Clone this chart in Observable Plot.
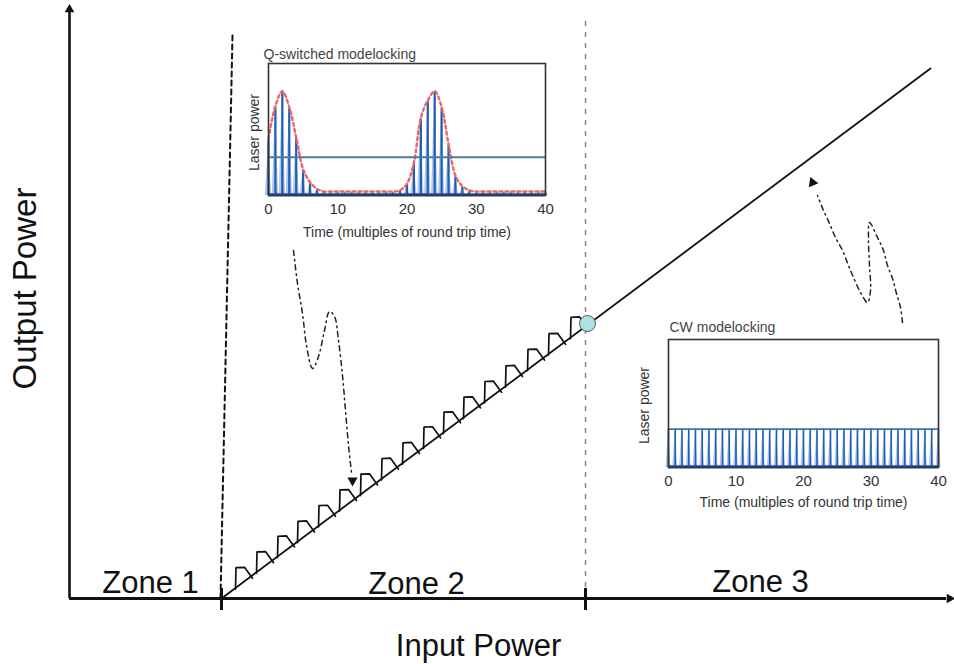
<!DOCTYPE html>
<html><head><meta charset="utf-8">
<script src="https://cdn.jsdelivr.net/npm/d3@7"></script>
<script src="https://cdn.jsdelivr.net/npm/@observablehq/plot@0.6"></script>
<style>
body{margin:0;background:#fff;}
#wrap{position:relative;width:954px;height:664px;overflow:hidden;font-family:"Liberation Sans",Arial,sans-serif;background:#fff;}
#wrap>div{position:absolute;}
</style></head><body>
<div id="wrap"><div id="main" style="left:0;top:0"></div><div id="q" style="left:230px;top:30px"></div><div id="cw" style="left:620px;top:300px"></div></div>
<script>
// ---------- Main diagram data (input power vs output power, schematic units) ----------
const threshold = 152;          // lasing threshold (start of zone 2)
const zoneBoundary = 516;       // boundary zone 2 / zone 3
const lasingLine = [{x: 152, y: 0}, {x: 861, y: 530}];
const xAxisEnd = 877, yAxisEnd = 586;
const zoneTicks = [152, 516];
const zoneLabels = [
  {label: "Zone 1", x: 81, y: 6},
  {label: "Zone 2", x: 347, y: 5},
  {label: "Zone 3", x: 691, y: 7}
];
const toothStarts = [166,187,208,228,249,270,291,312,333,354,374,394,415,436,458,479,501];
const toothShape = [{dx: 0, up: -1}, {dx: 0.5, up: 20}, {dx: 9, up: 14}, {dx: 17, up: -3}];
const qArrowPath = [[224,348],[228,315],[233,285],[237,253],[243,230],[249,242],[255,268],[260,287],[265,282],[269,258],[273,223],[276,188],[279,153],[282,126]];
const qArrowHead = {x: 283, y: 118, rotate: 180};
const cwArrowPath = [[833,276],[831,291],[827,305],[823,320],[818,333],[814,348],[808,361],[800,376],[799,358],[800,333],[801,308],[798,296],[791,306],[784,321],[779,333],[773,348],[766,361],[760,375],[754,388],[748,403]];
const cwArrowHead = {x: 743, y: 416, rotate: -22};
const transitionPoint = {x: 518, y: 275};

// ---------- Inset data ----------
const times = [0,1,2,3,4,5,6,7,8,9,10,11,12,13,14,15,16,17,18,19,20,21,22,23,24,25,26,27,28,29,30,31,32,33,34,35,36,37,38,39,40];
const qPulse = [0.42,0.67,0.78,0.66,0.43,0.19,0.09,0.04,0.02,0.02,0.02,0.02,0.02,0.02,0.02,0.02,0.02,0.02,0.02,0.03,0.08,0.24,0.58,0.71,0.78,0.66,0.38,0.14,0.06,0.03,0.02,0.02,0.02,0.02,0.02,0.02,0.02,0.02,0.02,0.02,0.02];
const qMean = 0.29;
const cwPulse = [0.3,0.3,0.3,0.3,0.3,0.3,0.3,0.3,0.3,0.3,0.3,0.3,0.3,0.3,0.3,0.3,0.3,0.3,0.3,0.3,0.3,0.3,0.3,0.3,0.3,0.3,0.3,0.3,0.3,0.3,0.3,0.3,0.3,0.3,0.3,0.3,0.3,0.3,0.3,0.3,0.3];
const timeTicks = [0, 10, 20, 30, 40];

// ---------- Build main ----------
const slope = (lasingLine[1].y - lasingLine[0].y) / (lasingLine[1].x - lasingLine[0].x);
const teeth = toothStarts.flatMap(s => toothShape.map(p => ({x: s + p.dx, y: slope * (s + p.dx - threshold) + p.up, z: s})));
const pts = a => a.map(([x, y]) => ({x, y}));
const ink = "#111";

const main = Plot.plot({
  width: 954, height: 664,
  marginLeft: 0, marginRight: 0, marginTop: 0, marginBottom: 0,
  x: {domain: [-69, 885], axis: null},
  y: {domain: [-66, 598], axis: null},
  style: {fontFamily: '"Liberation Sans", Arial, sans-serif', background: "transparent"},
  marks: [
    // zone separators
    Plot.line([{x: 163, y: 563}, {x: threshold - 1, y: 0}], {x: "x", y: "y", stroke: ink, strokeWidth: 2, strokeDasharray: "5,4"}),
    Plot.ruleX([zoneBoundary], {y1: 0, y2: 579, stroke: "#888", strokeWidth: 1.5, strokeDasharray: "5,6"}),
    // axes
    Plot.ruleY([0], {x1: 0, x2: xAxisEnd, stroke: ink, strokeWidth: 3}),
    Plot.ruleX([0], {y1: 0, y2: yAxisEnd, stroke: ink, strokeWidth: 2.6}),
    Plot.ruleX(zoneTicks, {y1: -12, y2: 10, stroke: ink, strokeWidth: 3}),
    Plot.dot([{x: 0, y: 589}], {x: "x", y: "y", symbol: "triangle", r: 3.6, fill: ink, stroke: null}),
    Plot.dot([{x: 880, y: 0}], {x: "x", y: "y", symbol: "triangle", r: 3.6, fill: ink, stroke: null, rotate: 90}),
    // output characteristic
    Plot.line(lasingLine, {x: "x", y: "y", stroke: ink, strokeWidth: 1.8}),
    Plot.line(teeth, {x: "x", y: "y", z: "z", stroke: ink, strokeWidth: 1.7, curve: "linear"}),
    Plot.dot([transitionPoint], {x: "x", y: "y", r: 8, fill: "#aee0e6", stroke: "#333", strokeWidth: 0.8}),
    // dashed arrows
    Plot.line(pts(qArrowPath), {x: "x", y: "y", curve: "catmull-rom", stroke: "#222", strokeWidth: 1.5, strokeDasharray: "5,4,1.5,4"}),
    Plot.dot([qArrowHead], {x: "x", y: "y", symbol: "triangle", r: 3.8, fill: ink, rotate: "rotate"}),
    Plot.line(pts(cwArrowPath), {x: "x", y: "y", curve: "catmull-rom", stroke: "#222", strokeWidth: 1.5, strokeDasharray: "5,4,1.5,4"}),
    Plot.dot([cwArrowHead], {x: "x", y: "y", symbol: "triangle", r: 3.8, fill: ink, rotate: "rotate"}),
    // labels
    Plot.text(zoneLabels, {x: "x", y: "y", text: "label", fontSize: 31, lineAnchor: "bottom", fill: ink}),
    Plot.text(["Input Power"], {x: [409], y: [-57], fontSize: 31, lineAnchor: "bottom", fill: ink}),
    Plot.text(["Output Power"], {x: [-34], y: [310], fontSize: 33, lineAnchor: "bottom", rotate: -90, fill: ink})
  ]
});
document.getElementById("main").appendChild(main);

// ---------- Insets ----------
function inset(values, opts) {
  const tri = values.flatMap((h, i) => [
    {t: times[i] - opts.hw, v: 0, k: i}, {t: times[i], v: h, k: i}, {t: times[i] + opts.hw, v: 0, k: i}
  ]);
  const pulses = values.map((h, i) => ({t: times[i], v: h}));
  return Plot.plot({
    width: 330, height: 220,
    marginLeft: opts.ml, marginRight: opts.mr, marginTop: opts.mt, marginBottom: opts.mb,
    x: {domain: [0, 40]},
    y: {domain: [0, 1], axis: null},
    style: {fontFamily: '"Liberation Sans", Arial, sans-serif', background: "transparent", color: "#333"},
    marks: [
      Plot.areaY(tri, {x: "t", y: "v", z: "k", fill: "#a9c3e6", fillOpacity: 0.9}),
      Plot.ruleX(pulses, {x: "t", y1: 0, y2: "v", stroke: "#1f5cb5", strokeWidth: opts.rw}),
      ...(opts.extra || []),
      Plot.ruleY([0.005], {stroke: "#1c4fa8", strokeWidth: 3}),
      Plot.frame({stroke: "#333", strokeWidth: 1.6}),
      Plot.axisX({ticks: timeTicks, tickSize: 0, tickPadding: 8, fontSize: 15, label: null, fill: "#333"}),
      Plot.text([opts.title], {frameAnchor: "top-left", dx: opts.tdx, dy: opts.tdy, textAnchor: "start", lineAnchor: "bottom", fontSize: 14, fill: "#444"}),
      Plot.text(["Time (multiples of round trip time)"], {frameAnchor: "bottom", dy: opts.xdy, textAnchor: "middle", lineAnchor: "bottom", fontSize: 14, fill: "#333"}),
      Plot.text(["Laser power"], {frameAnchor: "left", dx: opts.ydx, dy: opts.ydy, rotate: -90, textAnchor: "middle", lineAnchor: "bottom", fontSize: 14, fill: "#333"})
    ]
  });
}

const qPlot = inset(qPulse, {
  ml: 38, mr: 15, mt: 33, mb: 55, hw: 0.46, rw: 2.2, title: "Q-switched modelocking", tdx: -5, tdy: -5, xdy: 41, ydx: -10, ydy: 3,
  extra: [
    Plot.line(qPulse.map((v, i) => ({t: times[i], v: v + 0.01})), {x: "t", y: "v", curve: "catmull-rom", stroke: "#e8676b", strokeWidth: 2.4, strokeDasharray: "3,3"}),
    Plot.ruleY([qMean], {stroke: "#4a7c9c", strokeWidth: 2})
  ]
});
document.getElementById("q").appendChild(qPlot);

const cwPlot = inset(cwPulse, {
  ml: 48, mr: 12, mt: 39, mb: 53, hw: 0.36, rw: 1.6, title: "CW modelocking", tdx: 1, tdy: -8, xdy: 39, ydx: -20, ydy: 2,
  extra: [Plot.ruleY([0.3], {stroke: "#3a74b4", strokeWidth: 1.6})]
});
document.getElementById("cw").appendChild(cwPlot);
</script>
</body></html>
